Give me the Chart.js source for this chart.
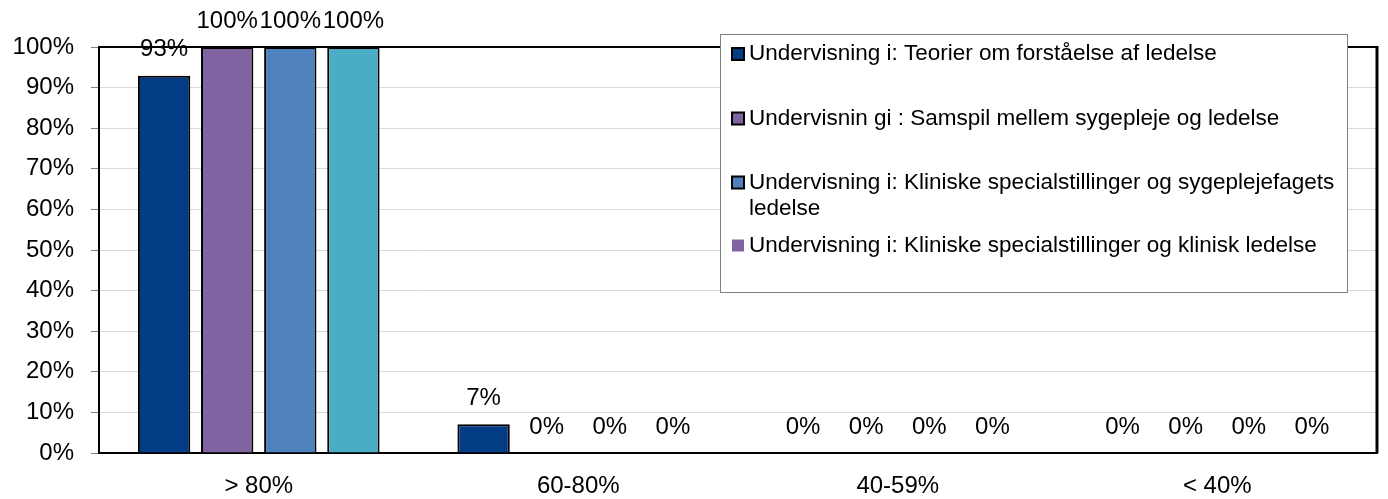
<!DOCTYPE html>
<html>
<head>
<meta charset="utf-8">
<script src="https://cdn.jsdelivr.net/npm/chart.js@4"></script>
<style>
  body { margin: 0; background: #fff; }
  #wrap { width: 1388px; height: 499px; }
</style>
</head>
<body>
<div id="wrap"><canvas id="myChart"></canvas></div>
<script>
const categories = ['> 80%', '60-80%', '40-59%', '< 40%'];
const seriesNames = [
    'Undervisning i: Teorier om forståelse af ledelse',
    'Undervisnin gi : Samspil mellem sygepleje og ledelse',
    'Undervisning i: Kliniske specialstillinger og sygeplejefagets ledelse',
    'Undervisning i: Kliniske specialstillinger og klinisk ledelse',
];
const teorier = [92.9, 7.1, 0, 0];
const samspil = [100, 0, 0, 0];
const sygeplejefagets = [100, 0, 0, 0];
const klinisk = [100, 0, 0, 0];
const yTicks = [0, 10, 20, 30, 40, 50, 60, 70, 80, 90, 100];

const barColors = ['#013C85', '#8064A2', '#4F81BD', '#4BACC6'];
// the original legend shows a purple, borderless swatch for the last series
const legendColors = ['#013C85', '#8064A2', '#4F81BD', '#8064A2'];
const legendBorders = [true, true, true, false];
const font = '"Liberation Sans", Arial, sans-serif';

const allSeries = [teorier, samspil, sygeplejefagets, klinisk];

const data = {
    labels: categories,
    datasets: allSeries.map((values, i) => ({
        label: seriesNames[i],
        data: values,
        backgroundColor: barColors[i],
        borderColor: '#000',
        borderWidth: (c) => (c.raw === 0 ? 0 : 2),
        categoryPercentage: 0.79,
        barPercentage: 0.83,
    })),
};

// frame on top and right of the plot area
const framePlugin = {
    id: 'frame',
    afterDatasetsDraw(chart) {
        const { ctx, chartArea: a } = chart;
        ctx.save();
        ctx.strokeStyle = '#000';
        ctx.lineWidth = 2;
        ctx.beginPath();
        ctx.moveTo(a.left, a.top);
        ctx.lineTo(a.right, a.top);
        ctx.stroke();
        ctx.lineWidth = 3;
        ctx.beginPath();
        ctx.moveTo(a.right, a.top - 1);
        ctx.lineTo(a.right, a.bottom);
        ctx.stroke();
        ctx.restore();
    },
};

// boxed legend drawn over the plot, like the original
const boxLegend = {
    id: 'boxLegend',
    afterDatasetsDraw(chart) {
        const ctx = chart.ctx;
        const x = 720, y = 34, w = 628, h = 259;
        const rows = [[54], [118.5], [182.5, 208.5], [245.5]];
        ctx.save();
        ctx.fillStyle = '#fff';
        ctx.fillRect(x, y, w, h);
        ctx.strokeStyle = '#808080';
        ctx.lineWidth = 1;
        ctx.strokeRect(x + 0.5, y + 0.5, w - 1, h - 1);
        ctx.font = '22.5px ' + font;
        ctx.textBaseline = 'middle';
        const maxW = 595;
        seriesNames.forEach((name, i) => {
            const ys = rows[i];
            // wrap text to box width
            const words = name.split(' ');
            const lines = [];
            let line = '';
            words.forEach((wd) => {
                const test = line ? line + ' ' + wd : wd;
                if (ctx.measureText(test).width > maxW && line) {
                    lines.push(line);
                    line = wd;
                } else {
                    line = test;
                }
            });
            lines.push(line);
            ctx.fillStyle = legendColors[i];
            ctx.fillRect(x + 12, ys[0] - 6, 12, 12);
            if (legendBorders[i]) {
                ctx.strokeStyle = '#000';
                ctx.lineWidth = 2;
                ctx.strokeRect(x + 12, ys[0] - 6, 12, 12);
            }
            ctx.fillStyle = '#000';
            lines.forEach((ln, j) => {
                ctx.fillText(ln, x + 29, ys[j] !== undefined ? ys[j] : ys[0] + 26 * j);
            });
        });
        ctx.restore();
    },
};

// value labels above each bar
const valueLabels = {
    id: 'valueLabels',
    afterDraw(chart) {
        const ctx = chart.ctx;
        ctx.save();
        ctx.font = '24px ' + font;
        ctx.fillStyle = '#000';
        ctx.textAlign = 'center';
        ctx.textBaseline = 'middle';
        chart.data.datasets.forEach((ds, i) => {
            chart.getDatasetMeta(i).data.forEach((bar, j) => {
                ctx.fillText(Math.round(ds.data[j]) + '%', bar.x, bar.y - 26);
            });
        });
        ctx.restore();
    },
};

const config = {
    type: 'bar',
    data: data,
    options: {
        responsive: true,
        maintainAspectRatio: false,
        animation: false,
        layout: { padding: { top: 47, right: 11, left: 0, bottom: 0 } },
        plugins: {
            legend: { display: false },
            tooltip: { enabled: false },
        },
        scales: {
            x: {
                grid: { display: false, drawTicks: false },
                border: { display: true, color: '#000', width: 2 },
                ticks: { font: { family: font, size: 24 }, color: '#000', padding: 19 },
                afterFit(scale) { scale.height = 46; },
            },
            y: {
                min: 0,
                max: 100,
                afterBuildTicks(scale) { scale.ticks = yTicks.map((v) => ({ value: v })); },
                grid: { color: '#d9d9d9', tickColor: '#808080', tickLength: 8 },
                border: { display: true, color: '#000', width: 2 },
                ticks: {
                    font: { family: font, size: 24 },
                    color: '#000',
                    padding: 17,
                    callback: (v) => v + '%',
                },
                afterFit(scale) { scale.width = 99; },
            },
        },
    },
    plugins: [framePlugin, boxLegend, valueLabels],
};

const ctx = document.getElementById('myChart').getContext('2d');
const myChart = new Chart(ctx, config);
</script>
</body>
</html>
